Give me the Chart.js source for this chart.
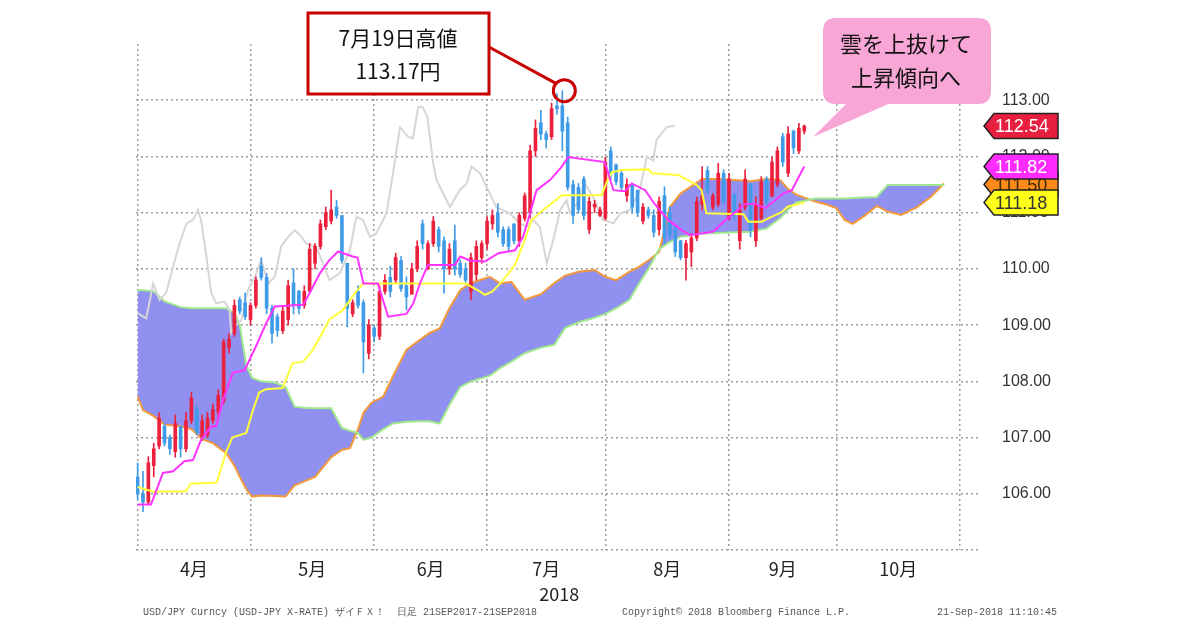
<!DOCTYPE html>
<html><head><meta charset="utf-8">
<script src="https://cdn.jsdelivr.net/npm/chart.js@4.4.1/dist/chart.umd.min.js"></script>
<style>html,body{margin:0;padding:0;background:#fff;width:1200px;height:630px;overflow:hidden}</style>
</head><body>
<canvas id="c" width="1200" height="630"></canvas>
<script>
// ---- axis / category data ----
const monthLabels = ['4月','5月','6月','7月','8月','9月','10月'];
const monthStarts = [0,21,44,65,87,110,130,153];   // trading-day index of each month start
const yTicks = [105,106,107,108,109,110,111,112,113];

// ---- daily candles (trading-day index 0 = 2 Apr 2018) ----
const candleOpen = [106.30,106.00,105.85,106.50,106.85,107.20,107.00,106.75,107.20,106.80,
107.30,107.50,107.00,107.05,107.30,107.45,107.65,108.60,108.85,109.45,
109.40,109.10,109.35,110.05,109.85,109.30,109.15,108.90,109.10,109.75,
109.60,109.35,109.60,110.10,110.40,110.75,110.85,111.10,110.95,110.10,
109.20,109.60,109.40,108.50,108.95,108.80,109.60,109.85,109.80,110.15,
109.70,109.55,110.00,110.80,110.00,110.45,110.70,110.50,110.00,110.50,
110.10,110.00,109.60,109.90,110.20,110.45,110.80,111.00,110.70,110.70,
110.80,110.50,110.90,111.00,112.10,112.60,112.40,112.35,112.90,112.90,
112.60,111.50,111.45,111.60,110.70,111.10,110.95,110.90,112.10,111.85,
111.70,111.30,111.50,111.40,110.85,111.05,110.95,110.70,111.30,111.00,
110.70,110.50,110.20,110.30,110.55,111.15,111.75,111.10,111.15,111.70,
110.90,111.30,110.50,111.10,111.50,110.50,110.90,111.60,111.30,111.50,
112.35,111.70,112.45,112.10,112.45];
const candleHigh = [106.55,106.40,106.66,106.90,107.44,107.25,107.05,107.40,107.20,107.45,
107.80,107.55,107.40,107.45,107.60,107.85,108.75,108.85,109.45,109.50,
109.57,109.40,109.86,110.20,109.92,109.35,109.20,109.33,109.80,110.00,
109.62,109.70,110.45,110.45,110.87,111.10,111.40,111.22,110.95,110.10,
109.45,109.70,109.45,109.10,109.00,109.70,109.90,110.05,110.28,110.22,
109.86,110.10,110.50,110.87,110.50,110.93,110.75,110.57,110.45,110.78,
110.16,110.10,110.28,110.50,110.50,110.93,111.05,111.16,110.75,110.75,
110.80,111.00,111.35,112.20,112.65,112.82,112.45,112.95,113.12,113.17,
112.70,111.58,111.52,111.64,111.28,111.22,111.10,111.99,112.17,111.87,
111.76,111.60,111.52,111.40,111.16,111.10,111.05,111.28,111.46,111.11,
110.75,110.51,110.51,110.63,111.28,111.82,111.82,111.34,111.88,111.76,
111.70,111.34,111.16,111.76,111.52,111.28,111.64,111.64,111.99,112.17,
112.41,112.53,112.47,112.59,112.56];
const candleLow = [105.90,105.68,105.80,106.30,106.80,106.85,106.70,106.65,106.65,106.75,
107.25,107.05,106.95,107.00,107.25,107.35,107.60,108.50,108.80,109.20,
109.10,109.00,109.30,109.80,109.20,108.68,108.80,108.85,109.00,109.20,
109.20,109.30,109.60,110.00,110.35,110.70,110.80,110.90,110.10,108.97,
109.15,109.30,108.15,108.40,108.70,108.74,109.55,109.50,109.75,109.60,
109.27,109.55,109.95,110.35,109.98,110.40,110.30,109.57,109.90,109.89,
109.85,109.74,109.45,109.80,110.10,110.35,110.70,110.57,110.40,110.30,
110.45,110.40,110.85,110.90,112.00,112.30,112.15,112.30,112.75,112.10,
111.40,110.81,110.99,110.87,110.63,111.00,110.93,110.87,111.60,111.50,
111.40,111.20,110.99,110.93,110.80,110.90,110.57,110.60,110.45,110.51,
110.22,110.16,109.80,110.04,110.50,111.05,111.34,111.05,111.11,111.16,
110.87,110.87,110.35,111.05,110.57,110.40,110.87,111.11,111.28,111.46,
111.82,111.64,112.05,112.05,112.40];
const candleClose = [106.00,105.85,106.55,106.80,107.35,106.90,106.80,107.25,106.80,107.30,
107.70,107.10,107.30,107.35,107.50,107.75,108.70,108.75,109.35,109.25,
109.15,109.35,109.80,109.85,109.30,108.85,108.90,109.25,109.70,109.35,
109.30,109.60,110.35,110.40,110.80,111.00,111.05,110.95,110.15,109.30,
109.40,109.35,108.70,109.00,108.80,109.60,109.80,109.60,110.20,109.65,
109.50,110.00,110.40,110.45,110.45,110.85,110.40,110.00,110.35,110.00,
109.90,109.80,110.20,110.40,110.45,110.85,110.95,110.65,110.45,110.40,
110.50,110.95,111.30,112.10,112.50,112.40,112.30,112.85,112.85,112.45,
111.45,110.95,111.05,110.95,111.20,111.15,111.05,111.90,111.70,111.55,
111.45,111.50,111.10,111.00,111.10,110.95,110.65,111.20,110.55,110.60,
110.30,110.20,110.45,110.55,111.20,111.30,111.40,111.30,111.70,111.20,
111.60,110.95,111.05,111.60,110.70,111.15,111.55,111.20,111.90,112.10,
111.90,112.40,112.15,112.50,112.54];

// ---- Ichimoku lines (index, value) ----
const tenkanX = [0,2.5,4.7,6.6,8.7,10.3,11.8,13.7,14.6,15.9,17.7,19.9,22,23.9,25.5,30.8,32,33.9,35.7,37.3,40,40.9,42,44.7,46.6,50,51.3,52.5,54,59,60,61.8,64.6,67.1,70.2,71.7,73,74.2,76.7,78.9,80.1,86.9,88.5,90.6,91.9,94.4,96.2,98.7,101.2,102.7,107,109,110.5,113,114.8,116.7,118.6,120.1,121.7,122.9,124];
const tenkanY = [105.81,105.81,106.37,106.4,106.58,106.6,106.96,107.2,107.2,107.67,108.15,108.2,108.62,109.03,109.33,109.36,109.57,109.92,110.16,110.31,110.22,110.2,109.74,109.74,109.15,109.2,109.39,109.74,110.07,110.07,110.22,110.15,110.13,110.28,110.33,110.57,110.99,111.4,111.58,111.82,111.99,111.9,111.4,111.38,111.52,111.4,111.15,110.87,110.69,110.6,110.66,110.84,110.96,111.15,111.16,111.08,111.22,111.34,111.4,111.62,111.82];
const kijunX = [0,2.8,8.9,9.9,14.7,16.5,17.6,20.2,21.5,22.6,23.9,27,28.8,30.8,32.6,35.7,38.2,40.4,42,61,63.3,64.6,66,67.7,70.2,72,73.3,75.1,78.9,86.3,87.5,88.2,90.1,95,95.6,100.6,104,104.9,105.8,112.7,113.6,116.1,117.3,119.8,121,124];
const kijunY = [106.12,106.04,106.04,106.18,106.2,106.75,107.0,107.08,107.5,107.8,107.86,107.88,108.32,108.35,108.56,109.1,109.27,109.57,109.74,109.74,109.62,109.54,109.6,109.77,110.07,110.51,110.87,111.02,111.31,111.31,111.6,111.72,111.76,111.77,111.7,111.67,111.49,111.4,110.99,110.97,110.84,110.84,110.9,111.01,111.11,111.18];
const cloudX = [0,1,3,5,8,10,12,14,16.5,18,19,20.2,21.3,23,25.5,27.5,29.2,31,33,36,38,39.5,41,42,43.5,45.7,47.5,50,52.5,54.3,56.2,58,60,62,65.5,67.5,69.5,72,75,77.5,79.5,82,85,87,89,91.5,93,95,97,99,101,103,105,108,111,114,117,119.5,121,122.5,124.5,126,128,130,131.5,133,135,137.5,139.5,142,145,147.5,150];
const spanA = [107.73,107.49,107.38,107.23,107.2,107.15,106.97,106.9,106.72,106.5,106.3,106.08,105.95,105.97,105.96,105.95,106.15,106.22,106.3,106.65,106.78,106.81,107.15,107.44,107.62,107.73,108.09,108.56,108.74,108.86,108.94,109.3,109.62,109.75,109.86,109.74,109.77,109.45,109.55,109.75,109.88,109.95,109.98,109.86,109.8,109.95,110.02,110.15,110.3,111.1,111.34,111.47,111.6,111.6,111.58,111.56,111.6,111.58,111.42,111.32,111.25,111.2,111.15,111.08,110.87,110.8,110.93,111.12,111.02,110.96,111.1,111.28,111.52];
const spanB = [109.62,109.62,109.6,109.42,109.32,109.3,109.3,109.3,109.3,109.21,109.0,108.28,108.06,108.0,107.98,107.9,107.55,107.53,107.52,107.52,107.17,107.12,107.08,106.96,107.0,107.15,107.25,107.28,107.29,107.29,107.25,107.58,107.9,108.0,108.1,108.24,108.35,108.5,108.6,108.65,108.95,109.05,109.13,109.2,109.3,109.45,109.7,110.0,110.35,110.48,110.57,110.6,110.63,110.64,110.65,110.66,110.72,110.9,111.05,111.18,111.22,111.25,111.25,111.25,111.25,111.26,111.27,111.28,111.49,111.49,111.49,111.49,111.49];
const chikouX = [0.06,1.6,2.9,4.1,5.3,6.6,7.8,9.1,10.3,11.2,11.8,12.8,13.7,14.6,16.2,17.1,17.4,18,19.3,20.5,21.8,23,24.3,25.5,26.7,28,29.2,30.5,31.4,33.2,35.7,37.6,39.5,40.7,41.9,43.2,44.4,46.3,47.5,48.8,50.3,51.2,52.2,53,53.9,55,55.6,58.1,59.9,61.2,62.1,63.7,65.2,66.7,69.2,71.1,72.3,73.6,74.8,76.1,77.3,78.6,79.8,80.4,81.7,83.2,84.7,86.6,88.5,89.8,91.6,93.4,94.7,95.9,96.5,98.4,99.9];
const chikouY = [109.21,109.12,109.74,109.45,109.57,110.04,110.45,110.81,110.87,111.05,110.87,110.22,109.57,109.39,109.42,109.27,108.86,108.97,109.09,109.62,109.86,110.16,109.74,109.86,110.4,110.57,110.69,110.57,110.45,110.4,109.8,109.92,110.34,110.93,110.87,110.57,110.63,110.99,111.7,112.52,112.35,112.32,112.88,112.88,112.7,111.87,111.58,111.1,111.4,111.52,111.82,111.7,111.4,111.1,110.99,110.81,110.75,110.87,110.75,110.1,110.51,111.05,111.22,110.99,111.16,111.52,111.28,110.87,110.81,110.99,111.05,111.4,111.99,111.93,112.29,112.52,112.55];

// ---- last-value tags on the price axis ----
const tagValues = [111.50, 111.18, 111.82, 112.54];
const tagTexts  = ['111.50','111.18','111.82','112.54'];

const RED = '#ec1f3d', BLUE = '#3f9be8';
const pts = (xs, ys) => xs.map((v, k) => ({x: v, y: ys[k]}));
const candleIdx = candleOpen.map((_, k) => k);
const upDown = ctx => (ctx.dataIndex === undefined) ? RED :
  (candleClose[ctx.dataIndex] >= candleOpen[ctx.dataIndex] ? RED : BLUE);

Chart.defaults.font.family = '"Noto Sans CJK JP", "Liberation Sans", sans-serif';

const overlay = {
  id: 'overlay',
  afterDraw(chart) {
    const {ctx, scales} = chart;
    const x = scales.x, y = scales.y;
    ctx.save();

    // "2018" under July label
    ctx.fillStyle = '#222';
    ctx.font = '18px "Noto Sans CJK JP"';
    ctx.textAlign = 'center'; ctx.textBaseline = 'middle';
    ctx.fillText('2018', x.getPixelForValue((monthStarts[3] + monthStarts[4]) / 2) + 13, 594);

    // footer
    ctx.fillStyle = '#555';
    ctx.font = '10px "Liberation Mono"';
    ctx.textAlign = 'left'; ctx.textBaseline = 'middle';
    ctx.fillText('USD/JPY Curncy (USD-JPY X-RATE) ザイＦＸ！  日足 21SEP2017-21SEP2018', 143, 612);
    ctx.fillText('Copyright© 2018 Bloomberg Finance L.P.', 622, 612);
    ctx.fillText('21-Sep-2018 11:10:45', 937, 612);

    // peak annotation
    let pk = 0;
    candleHigh.forEach((v, k) => { if (v > candleHigh[pk]) pk = k; });
    const cx = x.getPixelForValue(pk) + 2, cy = y.getPixelForValue(candleHigh[pk]);
    ctx.strokeStyle = '#c80000'; ctx.lineWidth = 3;
    ctx.beginPath(); ctx.arc(cx, cy, 11, 0, Math.PI * 2); ctx.stroke();
    ctx.beginPath(); ctx.moveTo(489, 47); ctx.lineTo(cx - 8, cy - 7); ctx.stroke();
    ctx.fillStyle = '#fff';
    ctx.fillRect(308, 13, 181, 81);
    ctx.strokeRect(308, 13, 181, 81);
    ctx.fillStyle = '#111';
    ctx.font = '21px "Noto Sans CJK JP"';
    ctx.textAlign = 'center'; ctx.textBaseline = 'middle';
    ctx.fillText('7月19日高値', 398, 38);
    ctx.fillText('113.17円', 398, 71);

    // pink callout
    ctx.fillStyle = '#f8a6d6';
    const rx = 823, ry = 18, rw = 168, rh = 86, r = 13;
    ctx.beginPath();
    ctx.moveTo(rx + r, ry); ctx.lineTo(rx + rw - r, ry); ctx.quadraticCurveTo(rx + rw, ry, rx + rw, ry + r);
    ctx.lineTo(rx + rw, ry + rh - r); ctx.quadraticCurveTo(rx + rw, ry + rh, rx + rw - r, ry + rh);
    ctx.lineTo(rx + r, ry + rh); ctx.quadraticCurveTo(rx, ry + rh, rx, ry + rh - r);
    ctx.lineTo(rx, ry + r); ctx.quadraticCurveTo(rx, ry, rx + r, ry);
    ctx.closePath(); ctx.fill();
    ctx.beginPath(); ctx.moveTo(848, ry + rh - 2); ctx.lineTo(813, 137); ctx.lineTo(893, ry + rh - 2); ctx.closePath(); ctx.fill();
    ctx.fillStyle = '#111';
    ctx.font = '22px "Noto Sans CJK JP"';
    ctx.fillText('雲を上抜けて', 906, 44);
    ctx.fillText('上昇傾向へ', 906, 78);

    // value tags
    const tagFill = ['#ff8c1a', '#ffff1a', '#ff2bff', '#e8203f'];
    const tagInk  = ['#3a2a00', '#333', '#fff', '#fff'];
    tagValues.forEach((v, k) => {
      const yp = y.getPixelForValue(v), h = 25, t = yp - h / 2, b = yp + h / 2;
      ctx.beginPath();
      ctx.moveTo(984, yp); ctx.lineTo(994, t); ctx.lineTo(1058, t); ctx.lineTo(1058, b); ctx.lineTo(994, b); ctx.closePath();
      ctx.fillStyle = tagFill[k]; ctx.fill();
      ctx.lineWidth = 1.5; ctx.strokeStyle = '#222'; ctx.stroke();
      ctx.fillStyle = tagInk[k];
      ctx.font = '18px "Liberation Sans"';
      ctx.textAlign = 'left'; ctx.textBaseline = 'middle';
      ctx.fillText(tagTexts[k], 995, yp + 1);
    });
    ctx.restore();
  }
};

new Chart(document.getElementById('c'), {
  type: 'line',
  data: {
    datasets: [
      { label: '先行スパン1', data: pts(cloudX, spanA), borderColor: '#f39a3c', borderWidth: 2,
        backgroundColor: '#9090f0', fill: '+1', pointRadius: 0, order: 10 },
      { label: '先行スパン2', data: pts(cloudX, spanB), borderColor: '#9fe88e', borderWidth: 2,
        fill: false, pointRadius: 0, order: 9 },
      { label: '遅行スパン', data: pts(chikouX, chikouY), borderColor: '#d6d6d6', borderWidth: 2,
        fill: false, pointRadius: 0, order: 8 },
      { type: 'bar', label: 'wick', data: candleIdx.map(k => ({x: k, y: [candleLow[k], candleHigh[k]]})),
        backgroundColor: upDown, barThickness: 1, grouped: false, order: 6 },
      { type: 'bar', label: 'body', data: candleIdx.map(k => ({x: k, y: [candleOpen[k], candleClose[k]]})),
        backgroundColor: upDown, barThickness: 3, minBarLength: 2, grouped: false, order: 5 },
      { label: '基準線', data: pts(kijunX, kijunY), borderColor: '#ffff3a', borderWidth: 2,
        fill: false, pointRadius: 0, order: 3 },
      { label: '転換線', data: pts(tenkanX, tenkanY), borderColor: '#ff33ff', borderWidth: 2,
        fill: false, pointRadius: 0, order: 2 }
    ]
  },
  options: {
    responsive: false, animation: false, devicePixelRatio: 1,
    layout: { padding: { top: 44, left: 136, right: 0, bottom: 0 } },
    plugins: { legend: { display: false }, tooltip: { enabled: false } },
    scales: {
      x: {
        type: 'linear', position: 'bottom', min: -0.3, max: 156.5, offset: false,
        afterBuildTicks: s => { s.ticks = monthStarts.map(v => ({value: v})); },
        afterFit: s => { s.height = 0; },
        ticks: { display: false },
        grid: { color: '#9c9c9c', lineWidth: 1.5, drawTicks: false, offset: false },
        border: { display: false, dash: [2, 3] }
      },
      x2: {
        type: 'linear', position: 'bottom', min: -0.3, max: 156.5, offset: false,
        afterBuildTicks: s => { s.ticks = monthLabels.map((_, k) => ({value: (monthStarts[k] + monthStarts[k + 1]) / 2})); },
        afterFit: s => { s.height = 80; },
        ticks: { autoSkip: false, maxRotation: 0, padding: 8, color: '#222',
                 font: { size: 18, family: '"Noto Sans CJK JP"' },
                 callback: (v, k) => monthLabels[k] },
        grid: { display: false, drawTicks: false, offset: false },
        border: { display: false }
      },
      y: {
        type: 'linear', position: 'right', min: 105, max: 114,
        afterBuildTicks: s => { s.ticks = yTicks.map(v => ({value: v})); },
        afterFit: s => { s.width = 221; },
        ticks: { padding: 23, color: '#333', font: { size: 16, family: '"Liberation Sans"' },
                 callback: v => (v === 105 ? '' : v.toFixed(2)) },
        grid: { color: '#9c9c9c', lineWidth: 1.5, drawTicks: false },
        border: { display: false, dash: [2, 3] }
      }
    }
  },
  plugins: [overlay]
});
</script>
</body></html>
